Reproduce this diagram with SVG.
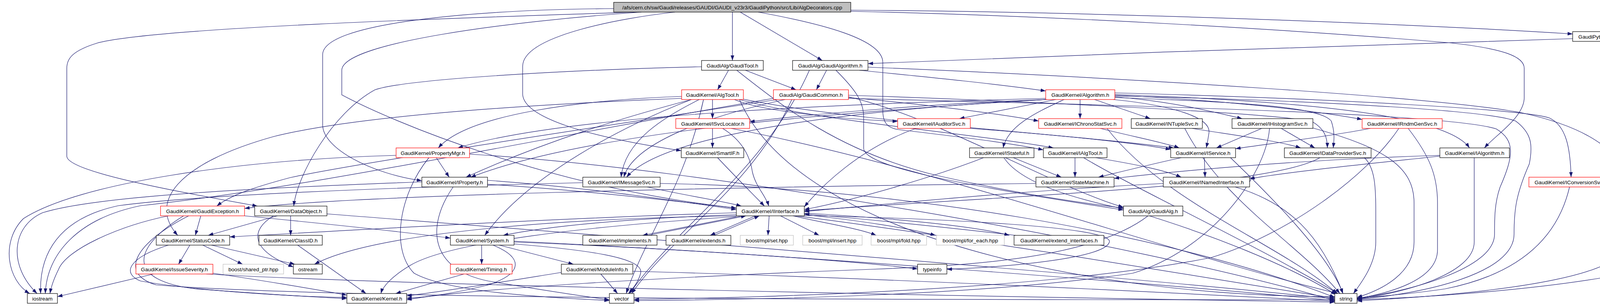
<svg xmlns="http://www.w3.org/2000/svg" width="4458" height="784" viewBox="0 0 4458 784">
<style>
.e path{fill:none;stroke:#191970;stroke-width:1.2;marker-end:url(#ah)}
.n rect{fill:#fff;stroke:#000;stroke-width:1.2}
.n.r rect{stroke:#ff0000}
.n.g rect{stroke:#bfbfbf}
.n.top rect{fill:#bfbfbf}
.n text{font-family:"Liberation Sans",Arial,sans-serif;font-size:13.6px;fill:#000;text-anchor:middle}
</style>
<defs>
<marker id="ah" viewBox="0 0 10 7" refX="10" refY="3.5" markerWidth="13" markerHeight="9.5" markerUnits="userSpaceOnUse" orient="auto"><path d="M0,0 L10,3.5 L0,7 z" fill="#191970"/></marker>
</defs>
<rect width="4458" height="784" fill="#fff"/>
<g id="edges" class="e">
<path d="M1875,31 L1875,155"/>
<path d="M1895,31 L2105,155"/>
<path d="M2178,26 C2800,30 3600,60 4026,87"/>
<path d="M2178,29 C2700,40 3300,75 3715,110 C3850,125 3902,145 3902,175 L3902,250 C3902,300 3830,345 3800,379"/>
<path d="M1941,31 C2100,60 2260,100 2260,160 L2260,283 C2260,318 2275,328 2300,332 C2450,350 2580,365 2671,384"/>
<path d="M1728,31 C1600,45 1338,90 1338,170 L1338,240 C1338,300 1500,350 1744,386"/>
<path d="M1642,31 C1300,55 875,110 875,180 L875,243 C1000,310 1400,480 1885,533"/>
<path d="M1630,31 C1200,45 400,70 250,110 C185,130 171,150 171,175 L171,400 C171,440 450,490 659,528"/>
<path d="M1571,22 C1200,25 826,60 826,140 L826,320 C826,380 950,445 1080,463"/>
<path d="M4168,106 L4312,155"/>
<path d="M4026,99 C3500,112 2800,140 2222,163"/>
<path d="M4144,106 C4190,150 4217,190 4217,240 L4217,620 C4217,680 4160,700 4100,712 C3900,745 3650,762 3474,768"/>
<path d="M1865,180 L1837,230"/>
<path d="M1908,180 L2038,230"/>
<path d="M1886,180 C2000,270 2150,390 2400,450 C2600,495 2750,518 2876,533"/>
<path d="M1796,171 C1500,178 1050,200 960,230 C850,290 760,450 752,528"/>
<path d="M2200,180 C2400,200 2550,215 2677,233"/>
<path d="M2116,180 L2090,230"/>
<path d="M2140,180 C2190,230 2211,260 2211,300 L2211,380 C2211,430 2500,480 2876,538"/>
<path d="M2072,180 C1958,437 1731,580 1612,752"/>
<path d="M2222,172 C2900,200 3700,250 3900,290 C4080,330 4165,400 4165,480 L4165,620 C4165,700 3900,748 3474,771"/>
<path d="M1824,255 L1824,304"/>
<path d="M1893,255 C2094,311 2496,342 2697,379"/>
<path d="M1770,255 C1600,300 1400,360 1193,454"/>
<path d="M1745,247 C1500,256 1200,290 1122,379"/>
<path d="M1790,255 C1700,300 1600,360 1590,454"/>
<path d="M1893,252 C2170,311 2727,342 3005,379"/>
<path d="M1880,255 C1950,285 2150,305 2298,311"/>
<path d="M1801,255 C1752,479 1654,603 1603,752"/>
<path d="M1893,255 C2045,608 2807,760 3417,760"/>
<path d="M1745,252 C1300,270 900,300 700,350 C450,420 380,520 455,603"/>
<path d="M1770,255 C1600,320 1350,450 1241,603"/>
<path d="M2010,255 C1800,300 1620,370 1597,454"/>
<path d="M1990,255 C1500,330 900,420 743,455 C650,480 590,500 555,528"/>
<path d="M2172,248 C2400,300 2700,480 2876,531"/>
<path d="M2172,244 C2600,258 3280,290 3360,312 C3390,330 3398,350 3398,379"/>
<path d="M2172,250 C2350,265 2550,290 2659,310"/>
<path d="M2027,255 C1925,479 1720,603 1617,752"/>
<path d="M2172,252 C2900,270 3700,290 3830,330 C3880,360 3875,400 3840,480 C3826,520 3826,560 3826,600 C3826,690 3600,748 3474,764"/>
<path d="M1980,252 C1400,350 800,480 360,527 C200,560 120,650 116,752"/>
<path d="M2703,255 L2456,304"/>
<path d="M2765,255 L2765,304"/>
<path d="M2802,255 L2945,304"/>
<path d="M2724,255 C2660,285 2580,320 2568,379"/>
<path d="M2854,248 C3000,260 3100,285 3180,304"/>
<path d="M2854,244 C3100,255 3350,280 3487,306"/>
<path d="M2854,250 C3200,262 3380,275 3408,310 C3418,340 3415,360 3413,379"/>
<path d="M2850,255 C3000,270 3100,300 3095,340 C3092,360 3090,370 3088,379"/>
<path d="M2854,242 C3300,258 3700,290 3762,379"/>
<path d="M2854,238 C3400,252 3900,280 3966,302 C4010,322 4020,380 4022,454"/>
<path d="M2677,252 C2200,265 1450,292 1172,379"/>
<path d="M2677,255 C2100,290 1500,340 1205,454"/>
<path d="M2677,255 C2400,265 2100,290 1919,312"/>
<path d="M2680,255 C2200,280 1700,340 1604,454"/>
<path d="M2854,246 C3300,255 3800,280 3880,310 C3920,340 3925,370 3915,420 C3880,500 3876,540 3876,600 C3876,700 3650,752 3474,767"/>
<path d="M1824,329 L1824,379"/>
<path d="M1850,329 C1900,360 1920,400 1926,440 C1935,480 1960,500 1968,528"/>
<path d="M1872,329 C2400,430 3000,650 3425,752"/>
<path d="M2484,329 C2700,345 2900,365 2997,383"/>
<path d="M2345,329 C2200,380 2100,480 2059,530"/>
<path d="M2817,329 C2900,350 2980,365 3019,379"/>
<path d="M2834,329 C2981,519 3276,625 3423,752"/>
<path d="M3052,329 C3150,345 3270,360 3330,379"/>
<path d="M3033,329 C3131,519 3326,625 3430,752"/>
<path d="M3230,329 L3114,379"/>
<path d="M3280,329 L3366,379"/>
<path d="M3361,328 C3550,380 3620,430 3620,520 L3620,620 C3620,700 3540,742 3474,762"/>
<path d="M3250,329 C3240,450 3100,640 2900,700 C2500,760 1900,768 1623,770"/>
<path d="M3508,329 C3400,350 3250,368 3163,381"/>
<path d="M3605,329 C3660,400 3680,450 3680,520 L3680,640 C3680,720 3550,752 3474,765"/>
<path d="M3581,329 C3500,450 3300,600 3100,660 C2700,740 2000,762 1623,767"/>
<path d="M3083,404 L3085,454"/>
<path d="M3024,404 C2950,420 2870,440 2812,454"/>
<path d="M3150,404 C3250,500 3400,650 3438,752"/>
<path d="M3379,404 C3250,480 2600,500 2059,540"/>
<path d="M3493,404 C3520,430 3522,480 3522,540 L3522,620 C3522,680 3480,730 3465,752"/>
<path d="M3686,400 C3500,420 3300,440 3199,458"/>
<path d="M3774,404 L3774,620 C3774,700 3600,750 3474,766"/>
<path d="M3686,398 C3300,410 3000,440 2852,457"/>
<path d="M2594,404 L2717,454"/>
<path d="M2518,404 C2400,450 2200,510 2059,537"/>
<path d="M2570,404 C2620,480 2800,520 2900,540 C3100,600 3300,680 3420,755"/>
<path d="M2752,404 L2752,454"/>
<path d="M2805,404 C2900,420 2980,435 3024,454"/>
<path d="M2774,404 C2900,480 3200,620 3425,752"/>
<path d="M1248,462 C1500,480 1700,510 1885,537"/>
<path d="M1160,479 C1090,580 1100,690 1250,720 C1400,745 1500,760 1560,768"/>
<path d="M1248,472 C2000,520 3000,700 3417,764"/>
<path d="M1080,466 C700,480 250,500 109,545 C30,580 20,680 95,752"/>
<path d="M1657,479 C1750,500 1850,515 1898,528"/>
<path d="M1690,470 C2300,480 3000,600 3417,762"/>
<path d="M1492,468 C1000,480 500,500 303,527 C150,560 100,650 104,752"/>
<path d="M2652,470 C1800,480 900,500 626,534"/>
<path d="M2978,470 C2600,490 2300,520 2059,542"/>
<path d="M3162,479 C3300,520 3380,600 3438,752"/>
<path d="M4018,479 C3990,600 3900,700 3700,740 C3600,755 3520,760 3474,764"/>
<path d="M514,553 L500,603"/>
<path d="M431,553 C300,580 170,640 150,690 C135,720 130,740 128,752"/>
<path d="M483,553 C350,620 300,700 400,730 C900,770 2500,768 3417,768"/>
<path d="M626,553 C800,570 1000,590 1153,610"/>
<path d="M470,553 C330,640 330,720 500,740 C700,755 820,762 888,765"/>
<path d="M744,553 L744,603"/>
<path d="M710,553 L533,603"/>
<path d="M700,553 C640,590 640,640 751,684"/>
<path d="M837,548 C1500,600 2800,700 3417,766"/>
<path d="M1900,553 L1645,603"/>
<path d="M1934,553 L1818,603"/>
<path d="M1969,553 L1966,603"/>
<path d="M1998,553 L2097,603"/>
<path d="M2030,553 C2100,570 2200,585 2243,603"/>
<path d="M2059,550 C2200,565 2330,585 2395,603"/>
<path d="M2059,546 C2300,560 2500,580 2584,603"/>
<path d="M1885,545 C1400,560 900,590 588,607"/>
<path d="M1885,550 C1600,560 1400,580 1288,603"/>
<path d="M1885,555 C1500,580 1150,620 1050,680 C1000,710 980,735 975,752"/>
<path d="M1885,553 C1400,560 950,600 805,677"/>
<path d="M2059,552 C2400,560 2850,580 2840,620 C2830,660 2600,683 2424,690"/>
<path d="M1658,603 L1910,553"/>
<path d="M1828,603 L1944,553"/>
<path d="M2600,603 C2400,580 2200,560 2059,548"/>
<path d="M1837,404 C1880,450 1930,500 1957,528"/>
<path d="M1233,628 L1233,677"/>
<path d="M1278,628 L1468,677"/>
<path d="M1262,628 C1340,660 1340,700 1250,730 C1150,755 1080,762 1041,764"/>
<path d="M1316,625 C1500,640 1650,660 1640,700 C1635,720 1620,740 1609,752"/>
<path d="M1316,618 C2000,650 3000,730 3417,770"/>
<path d="M1316,620 C1800,640 2200,670 2349,689"/>
<path d="M1188,702 L1013,752"/>
<path d="M1538,702 L1581,752"/>
<path d="M1437,698 C1300,720 1150,745 1041,758"/>
<path d="M1620,695 C2200,710 3000,750 3417,772"/>
<path d="M486,628 L457,677"/>
<path d="M519,628 L621,677"/>
<path d="M541,628 L755,677"/>
<path d="M431,628 C330,660 310,700 360,720 C500,745 750,760 888,762"/>
<path d="M762,628 L937,752"/>
<path d="M393,702 L147,760"/>
<path d="M528,702 C1000,730 2500,760 3417,774"/>
<path d="M545,700 C650,715 800,740 888,756"/>
<path d="M2939,553 C2800,660 2500,680 2229,690 C1700,710 1200,740 1041,768"/>
<path d="M1117,404 L1150,454"/>
<path d="M1014,398 C600,410 200,470 60,560 C0,620 20,720 76,752"/>
<path d="M1098,404 C1020,500 1000,640 1060,700 C1150,750 1400,762 1560,770"/>
<path d="M1202,395 C1800,430 2900,620 3417,770"/>
</g>
<g id="n_top" class="n top"><rect x="1571" y="6" width="607" height="25"/><text x="1874.5" y="23.5">/afs/cern.ch/sw/Gaudi/releases/GAUDI/GAUDI_v23r3/GaudiPython/src/Lib/AlgDecorators.cpp</text></g>
<g id="n_algdech" class="n"><rect x="4026" y="81" width="209" height="25"/><text x="4130.5" y="98.5">GaudiPython/AlgDecorators.h</text></g>
<g id="n_gauditool" class="n"><rect x="1796" y="155" width="158" height="25"/><text x="1875" y="172.5">GaudiAlg/GaudiTool.h</text></g>
<g id="n_gaudialgorithm" class="n"><rect x="2029" y="155" width="193" height="25"/><text x="2125.5" y="172.5">GaudiAlg/GaudiAlgorithm.h</text></g>
<g id="n_gaudipython" class="n"><rect x="4254" y="155" width="199" height="25"/><text x="4353.5" y="172.5">GaudiPython/GaudiPython.h</text></g>
<g id="n_algtool" class="n r"><rect x="1745" y="230" width="158" height="25"/><text x="1824" y="247.5">GaudiKernel/AlgTool.h</text></g>
<g id="n_gaudicommon" class="n r"><rect x="1980" y="230" width="192" height="25"/><text x="2076" y="247.5">GaudiAlg/GaudiCommon.h</text></g>
<g id="n_algorithm" class="n r"><rect x="2677" y="230" width="177" height="25"/><text x="2765.5" y="247.5">GaudiKernel/Algorithm.h</text></g>
<g id="n_isvclocator" class="n r"><rect x="1730" y="304" width="189" height="25"/><text x="1824.5" y="321.5">GaudiKernel/ISvcLocator.h</text></g>
<g id="n_iauditorsvc" class="n r"><rect x="2298" y="304" width="186" height="25"/><text x="2391" y="321.5">GaudiKernel/IAuditorSvc.h</text></g>
<g id="n_ichronostatsvc" class="n r"><rect x="2659" y="304" width="213" height="25"/><text x="2765.5" y="321.5">GaudiKernel/IChronoStatSvc.h</text></g>
<g id="n_intuplesvc" class="n"><rect x="2896" y="304" width="182" height="25"/><text x="2987" y="321.5">GaudiKernel/INTupleSvc.h</text></g>
<g id="n_ihistogramsvc" class="n"><rect x="3154" y="304" width="207" height="25"/><text x="3257.5" y="321.5">GaudiKernel/IHistogramSvc.h</text></g>
<g id="n_irndmgensvc" class="n r"><rect x="3487" y="304" width="205" height="25"/><text x="3589.5" y="321.5">GaudiKernel/IRndmGenSvc.h</text></g>
<g id="n_propertymgr" class="n r"><rect x="1014" y="379" width="188" height="25"/><text x="1108" y="396.5">GaudiKernel/PropertyMgr.h</text></g>
<g id="n_smartif" class="n"><rect x="1744" y="379" width="160" height="25"/><text x="1824" y="396.5">GaudiKernel/SmartIF.h</text></g>
<g id="n_istateful" class="n"><rect x="2482" y="379" width="165" height="25"/><text x="2564.5" y="396.5">GaudiKernel/IStateful.h</text></g>
<g id="n_ialgtool" class="n"><rect x="2671" y="379" width="163" height="25"/><text x="2752.5" y="396.5">GaudiKernel/IAlgTool.h</text></g>
<g id="n_iservice" class="n"><rect x="2997" y="379" width="166" height="25"/><text x="3080" y="396.5">GaudiKernel/IService.h</text></g>
<g id="n_idataprovidersvc" class="n"><rect x="3288" y="379" width="222" height="25"/><text x="3399" y="396.5">GaudiKernel/IDataProviderSvc.h</text></g>
<g id="n_ialgorithm" class="n"><rect x="3686" y="379" width="178" height="25"/><text x="3775" y="396.5">GaudiKernel/IAlgorithm.h</text></g>
<g id="n_iproperty" class="n"><rect x="1080" y="454" width="168" height="25"/><text x="1164" y="471.5">GaudiKernel/IProperty.h</text></g>
<g id="n_imessagesvc" class="n"><rect x="1492" y="454" width="198" height="25"/><text x="1591" y="471.5">GaudiKernel/IMessageSvc.h</text></g>
<g id="n_statemachine" class="n"><rect x="2652" y="454" width="200" height="25"/><text x="2752" y="471.5">GaudiKernel/StateMachine.h</text></g>
<g id="n_inamedinterface" class="n"><rect x="2978" y="454" width="221" height="25"/><text x="3088.5" y="471.5">GaudiKernel/INamedInterface.h</text></g>
<g id="n_iconversionsvc" class="n r"><rect x="3914" y="454" width="215" height="25"/><text x="4021.5" y="471.5">GaudiKernel/IConversionSvc.h</text></g>
<g id="n_gaudiexception" class="n r"><rect x="411" y="528" width="215" height="25"/><text x="518.5" y="545.5">GaudiKernel/GaudiException.h</text></g>
<g id="n_dataobject" class="n"><rect x="652" y="528" width="185" height="25"/><text x="744.5" y="545.5">GaudiKernel/DataObject.h</text></g>
<g id="n_iinterface" class="n"><rect x="1885" y="528" width="174" height="25"/><text x="1972" y="545.5">GaudiKernel/IInterface.h</text></g>
<g id="n_gaudialg" class="n"><rect x="2876" y="528" width="152" height="25"/><text x="2952" y="545.5">GaudiAlg/GaudiAlg.h</text></g>
<g id="n_statuscode" class="n"><rect x="400" y="603" width="188" height="25"/><text x="494" y="620.5">GaudiKernel/StatusCode.h</text></g>
<g id="n_classid" class="n"><rect x="663" y="603" width="162" height="25"/><text x="744" y="620.5">GaudiKernel/ClassID.h</text></g>
<g id="n_system" class="n"><rect x="1153" y="603" width="163" height="25"/><text x="1234.5" y="620.5">GaudiKernel/System.h</text></g>
<g id="n_implements" class="n"><rect x="1492" y="603" width="190" height="25"/><text x="1587" y="620.5">GaudiKernel/implements.h</text></g>
<g id="n_extends" class="n"><rect x="1705" y="603" width="166" height="25"/><text x="1788" y="620.5">GaudiKernel/extends.h</text></g>
<g id="n_mplset" class="n g"><rect x="1895" y="603" width="136" height="25"/><text x="1963" y="620.5">boost/mpl/set.hpp</text></g>
<g id="n_mplinsert" class="n g"><rect x="2055" y="603" width="152" height="25"/><text x="2131" y="620.5">boost/mpl/insert.hpp</text></g>
<g id="n_mplfold" class="n g"><rect x="2230" y="603" width="142" height="25"/><text x="2301" y="620.5">boost/mpl/fold.hpp</text></g>
<g id="n_mplforeach" class="n g"><rect x="2397" y="603" width="174" height="25"/><text x="2484" y="620.5">boost/mpl/for_each.hpp</text></g>
<g id="n_extendinterfaces" class="n"><rect x="2596" y="603" width="230" height="25"/><text x="2711" y="620.5">GaudiKernel/extend_interfaces.h</text></g>
<g id="n_issueseverity" class="n r"><rect x="348" y="677" width="197" height="25"/><text x="446.5" y="694.5">GaudiKernel/IssueSeverity.h</text></g>
<g id="n_sharedptr" class="n g"><rect x="571" y="677" width="155" height="25"/><text x="648.5" y="694.5">boost/shared_ptr.hpp</text></g>
<g id="n_ostream" class="n"><rect x="751" y="677" width="74" height="25"/><text x="788" y="694.5">ostream</text></g>
<g id="n_timing" class="n r"><rect x="1153" y="677" width="158" height="25"/><text x="1232" y="694.5">GaudiKernel/Timing.h</text></g>
<g id="n_moduleinfo" class="n"><rect x="1437" y="677" width="183" height="25"/><text x="1528.5" y="694.5">GaudiKernel/ModuleInfo.h</text></g>
<g id="n_typeinfo" class="n"><rect x="2349" y="677" width="75" height="25"/><text x="2386.5" y="694.5">typeinfo</text></g>
<g id="n_iostream" class="n"><rect x="70" y="752" width="77" height="25"/><text x="108.5" y="769.5">iostream</text></g>
<g id="n_kernel" class="n"><rect x="888" y="752" width="153" height="25"/><text x="964.5" y="769.5">GaudiKernel/Kernel.h</text></g>
<g id="n_vector" class="n"><rect x="1560" y="752" width="63" height="25"/><text x="1591.5" y="769.5">vector</text></g>
<g id="n_string" class="n"><rect x="3417" y="752" width="57" height="25"/><text x="3445.5" y="769.5">string</text></g>
</svg>
